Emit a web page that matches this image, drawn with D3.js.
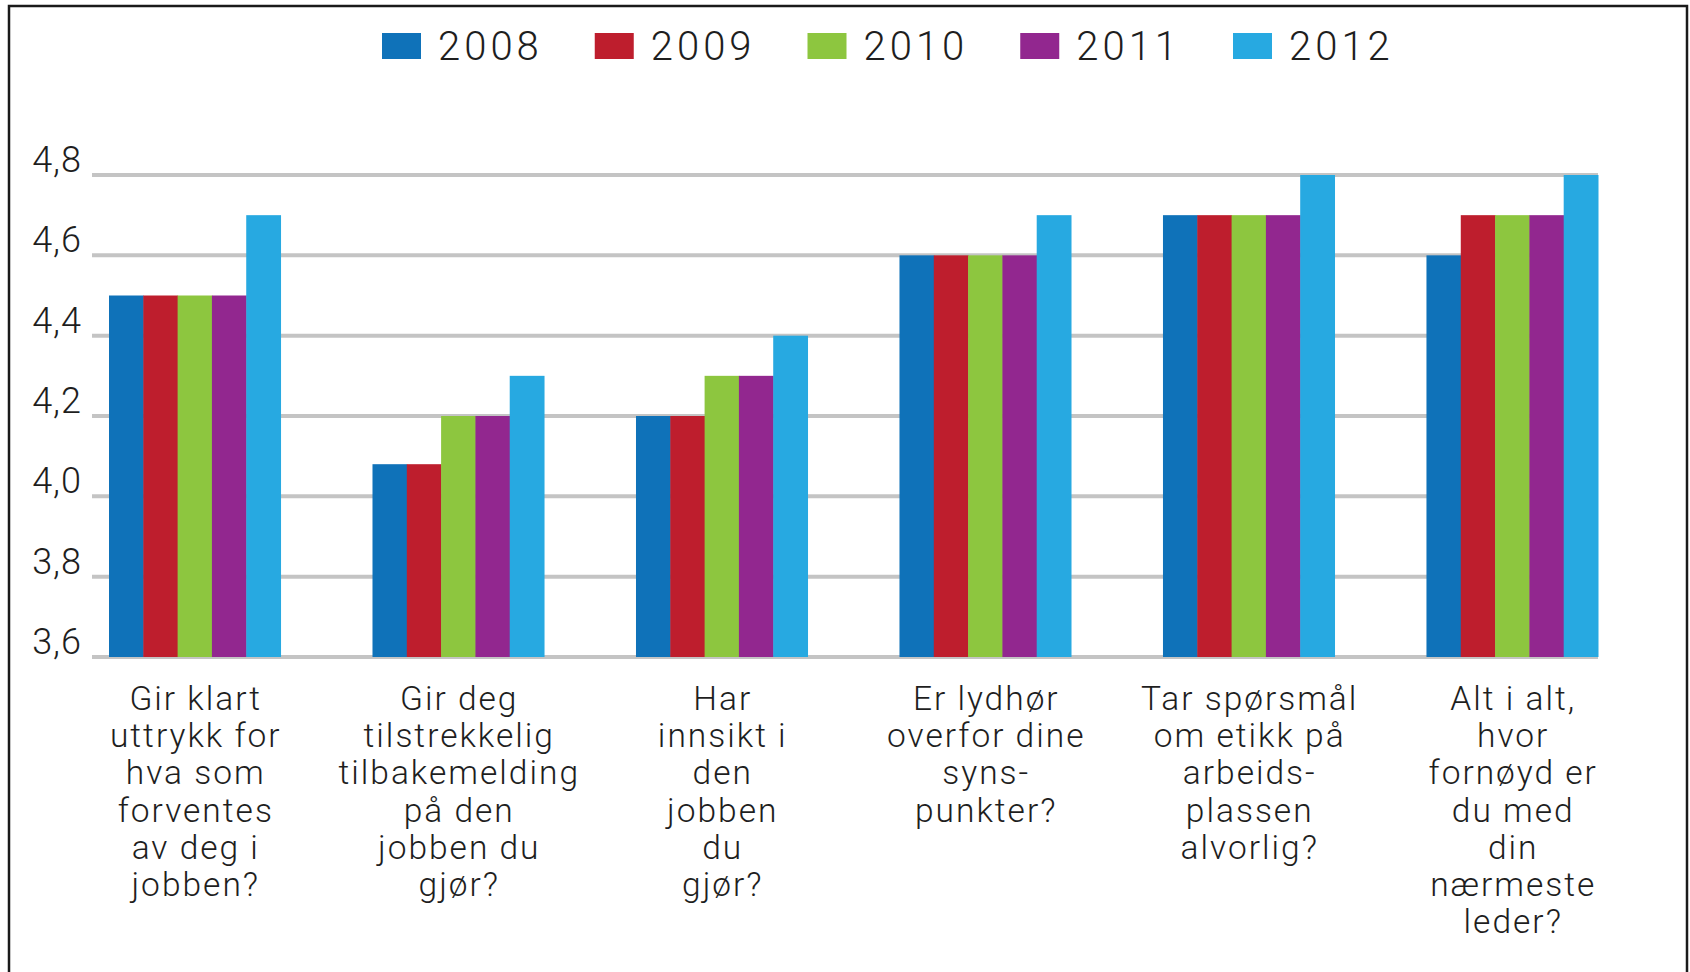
<!DOCTYPE html>
<html>
<head>
<meta charset="utf-8">
<script src="https://cdn.jsdelivr.net/npm/d3@7"></script>
<style>
  html, body { margin: 0; padding: 0; background: #fff; }
  svg { display: block; font-family: Roboto, "Liberation Sans", sans-serif; }
</style>
</head>
<body>
<svg id="chart" width="1690" height="972"></svg>
<script>
// categories (label lines) and series values
var categories = [
    ["Gir klart", "uttrykk for", "hva som", "forventes", "av deg i", "jobben?"],
    ["Gir deg", "tilstrekkelig", "tilbakemelding", "på den", "jobben du", "gjør?"],
    ["Har", "innsikt i", "den", "jobben", "du", "gjør?"],
    ["Er lydhør", "overfor dine", "syns-", "punkter?"],
    ["Tar spørsmål", "om etikk på", "arbeids-", "plassen", "alvorlig?"],
    ["Alt i alt,", "hvor", "fornøyd er", "du med", "din", "nærmeste", "leder?"]
];
var years = ["2008", "2009", "2010", "2011", "2012"];
var v2008 = [4.5, 4.08, 4.2, 4.6, 4.7, 4.6];
var v2009 = [4.5, 4.08, 4.2, 4.6, 4.7, 4.7];
var v2010 = [4.5, 4.2, 4.3, 4.6, 4.7, 4.7];
var v2011 = [4.5, 4.2, 4.3, 4.6, 4.7, 4.7];
var v2012 = [4.7, 4.3, 4.4, 4.7, 4.8, 4.8];
var yTicks = [3.6, 3.8, 4.0, 4.2, 4.4, 4.6, 4.8];

var series = [v2008, v2009, v2010, v2011, v2012];
var colors = ["#0f72b9", "#be1e2d", "#8dc63f", "#92278f", "#27a9e1"];

var svg = d3.select("#chart");

// frame (open at the bottom, as in the scan)
svg.append("rect")
    .attr("x", 9).attr("y", 6)
    .attr("width", 1678).attr("height", 1100)
    .attr("fill", "none")
    .attr("stroke", "#1a1a1a")
    .attr("stroke-width", 2.5);

var x0 = d3.scaleBand().domain(d3.range(categories.length))
    .range([109, 1598]).paddingInner(0.349).paddingOuter(0);
var x1 = d3.scaleBand().domain(years).range([0, x0.bandwidth()]);
var y = d3.scaleLinear().domain([3.6, 4.8]).range([657, 175]);

// gridlines
svg.append("g").selectAll("line")
    .data(yTicks)
    .enter().append("line")
    .attr("x1", 92).attr("x2", 1598)
    .attr("y1", function (d) { return y(d); })
    .attr("y2", function (d) { return y(d); })
    .attr("stroke", "#c4c4c4")
    .attr("stroke-width", 4);

// tick labels
svg.append("g").selectAll("text")
    .data(yTicks)
    .enter().append("text")
    .attr("x", 82)
    .attr("y", function (d) { return y(d) - 3; })
    .attr("text-anchor", "end")
    .style("font-size", "36px")
    .style("font-weight", 300)
    .style("letter-spacing", "1px")
    .attr("fill", "#1e1e1e")
    .text(function (d) { return d3.format(".1f")(d).replace(".", ","); });

// bars
var groups = svg.append("g").selectAll("g")
    .data(categories)
    .enter().append("g")
    .attr("transform", function (d, i) { return "translate(" + x0(i) + ",0)"; });

groups.selectAll("rect")
    .data(function (d, i) {
        return years.map(function (yr, k) { return { year: yr, k: k, value: series[k][i] }; });
    })
    .enter().append("rect")
    .attr("x", function (d) { return x1(d.year); })
    .attr("width", x1.bandwidth() + 0.5)
    .attr("y", function (d) { return y(d.value); })
    .attr("height", function (d) { return y(3.6) - y(d.value); })
    .attr("fill", function (d) { return colors[d.k]; });

// category labels
var labels = svg.append("g").selectAll("text")
    .data(categories)
    .enter().append("text")
    .attr("text-anchor", "middle")
    .attr("x", function (d, i) { return x0(i) + x0.bandwidth() / 2 + 1; })
    .attr("y", 710)
    .style("font-size", "33.5px")
    .style("font-weight", 300)
    .style("letter-spacing", "2px")
    .attr("fill", "#1e1e1e");

labels.selectAll("tspan")
    .data(function (d) { return d; })
    .enter().append("tspan")
    .attr("x", function () { return d3.select(this.parentNode).attr("x"); })
    .attr("dy", function (d, i) { return i === 0 ? 0 : 37.2; })
    .text(function (d) { return d; });

// legend, laid out as a flow
var legend = svg.append("g");
var lx = 382;
years.forEach(function (yr, k) {
    legend.append("rect")
        .attr("x", lx).attr("y", 33)
        .attr("width", 39).attr("height", 26)
        .attr("fill", colors[k]);
    var t = legend.append("text")
        .attr("x", lx + 56).attr("y", 60)
        .style("font-size", "40px")
        .style("font-weight", 300)
        .style("letter-spacing", "4px")
        .attr("fill", "#1e1e1e")
        .text(yr);
    lx = lx + 56 + t.node().getComputedTextLength() + 52;
});
</script>
</body>
</html>
